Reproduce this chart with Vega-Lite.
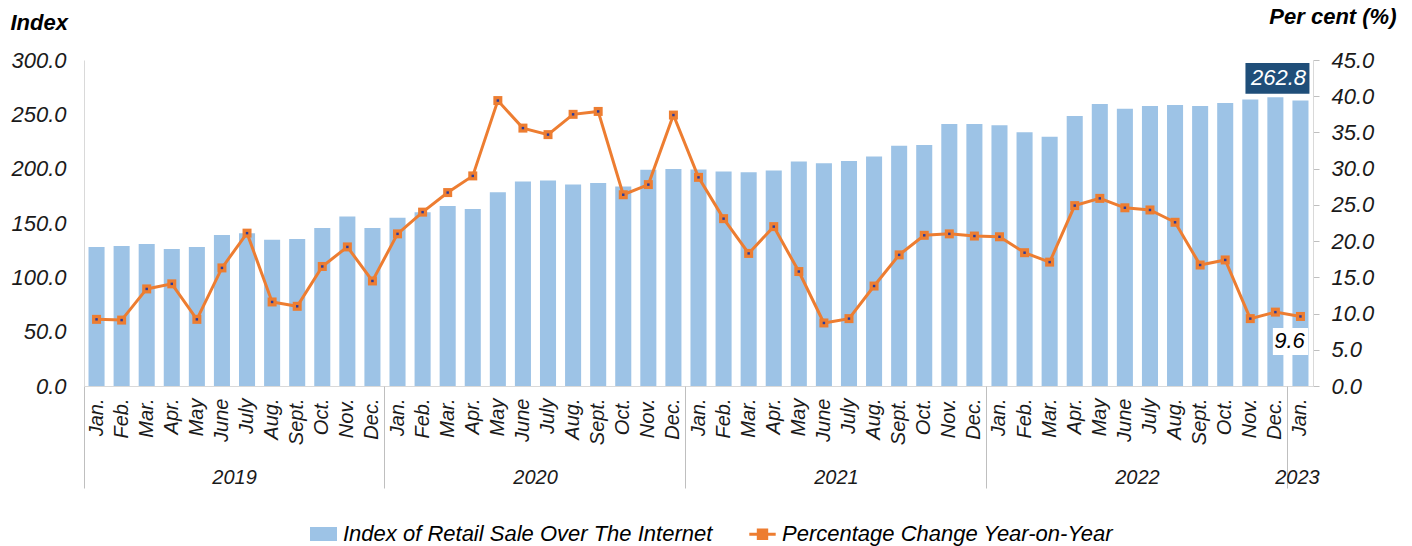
{
  "$schema": "https://vega.github.io/schema/vega-lite/v6.json",
  "autosize": {"type": "none"},
  "padding": {"left": 84, "top": 60, "right": 99, "bottom": 160},
  "width": 1229,
  "height": 326,
  "background": "white",
  "config": {
    "view": {"stroke": null},
    "font": "Liberation Sans",
    "axis": {"labelFont": "Liberation Sans", "titleFont": "Liberation Sans", "grid": false},
    "legend": {"labelFont": "Liberation Sans"},
    "text": {"font": "Liberation Sans"}
  },
  "data": {
    "values": [
      {"key": "2019|Jan.", "idx": 128.0, "pct": 9.2},
      {"key": "2019|Feb.", "idx": 128.8, "pct": 9.1},
      {"key": "2019|Mar.", "idx": 130.6, "pct": 13.4},
      {"key": "2019|Apr.", "idx": 126.0, "pct": 14.1},
      {"key": "2019|May", "idx": 128.0, "pct": 9.2},
      {"key": "2019|June", "idx": 139.0, "pct": 16.3},
      {"key": "2019|July", "idx": 140.5, "pct": 21.1},
      {"key": "2019|Aug.", "idx": 134.6, "pct": 11.6},
      {"key": "2019|Sept.", "idx": 135.2, "pct": 11.0},
      {"key": "2019|Oct.", "idx": 145.4, "pct": 16.5},
      {"key": "2019|Nov.", "idx": 156.0, "pct": 19.2},
      {"key": "2019|Dec.", "idx": 145.4, "pct": 14.5},
      {"key": "2020|Jan.", "idx": 154.8, "pct": 21.0},
      {"key": "2020|Feb.", "idx": 160.0, "pct": 24.0},
      {"key": "2020|Mar.", "idx": 165.6, "pct": 26.7},
      {"key": "2020|Apr.", "idx": 162.8, "pct": 29.0},
      {"key": "2020|May", "idx": 178.2, "pct": 39.4},
      {"key": "2020|June", "idx": 188.3, "pct": 35.6},
      {"key": "2020|July", "idx": 189.2, "pct": 34.7},
      {"key": "2020|Aug.", "idx": 185.5, "pct": 37.5},
      {"key": "2020|Sept.", "idx": 186.8, "pct": 37.9},
      {"key": "2020|Oct.", "idx": 183.7, "pct": 26.4},
      {"key": "2020|Nov.", "idx": 199.0, "pct": 27.8},
      {"key": "2020|Dec.", "idx": 199.6, "pct": 37.4},
      {"key": "2021|Jan.", "idx": 199.3, "pct": 28.8},
      {"key": "2021|Feb.", "idx": 197.5, "pct": 23.1},
      {"key": "2021|Mar.", "idx": 196.6, "pct": 18.3},
      {"key": "2021|Apr.", "idx": 198.4, "pct": 22.0},
      {"key": "2021|May", "idx": 206.7, "pct": 15.8},
      {"key": "2021|June", "idx": 204.9, "pct": 8.7},
      {"key": "2021|July", "idx": 207.0, "pct": 9.3},
      {"key": "2021|Aug.", "idx": 211.3, "pct": 13.8},
      {"key": "2021|Sept.", "idx": 221.0, "pct": 18.1},
      {"key": "2021|Oct.", "idx": 221.7, "pct": 20.8},
      {"key": "2021|Nov.", "idx": 241.0, "pct": 21.0},
      {"key": "2021|Dec.", "idx": 241.0, "pct": 20.7},
      {"key": "2022|Jan.", "idx": 240.0, "pct": 20.6},
      {"key": "2022|Feb.", "idx": 233.4, "pct": 18.4},
      {"key": "2022|Mar.", "idx": 229.4, "pct": 17.1},
      {"key": "2022|Apr.", "idx": 248.4, "pct": 24.9},
      {"key": "2022|May", "idx": 259.4, "pct": 25.9},
      {"key": "2022|June", "idx": 255.1, "pct": 24.6},
      {"key": "2022|July", "idx": 257.6, "pct": 24.3},
      {"key": "2022|Aug.", "idx": 258.5, "pct": 22.6},
      {"key": "2022|Sept.", "idx": 257.6, "pct": 16.7},
      {"key": "2022|Oct.", "idx": 260.4, "pct": 17.4},
      {"key": "2022|Nov.", "idx": 263.7, "pct": 9.3},
      {"key": "2022|Dec.", "idx": 265.8, "pct": 10.2},
      {"key": "2023|Jan.", "idx": 262.8, "pct": 9.6}
    ]
  },
  "layer": [
    {
      "encoding": {
        "x": {
          "field": "key", "type": "nominal", "sort": null,
          "scale": {"paddingInner": 0.36, "paddingOuter": 0.18},
          "axis": {
            "orient": "bottom",
            "title": null,
            "labelExpr": "split(datum.value,'|')[1]",
            "labelAngle": -90, "labelAlign": "right", "labelBaseline": "middle",
            "labelPadding": 12, "ticks": false, "domainColor": "#D9D9D9",
            "labelFontSize": 20, "labelFontStyle": "italic", "labelColor": "#1a1a1a",
            "labelOverlap": false
          }
        },
        "y": {
          "field": "idx", "type": "quantitative",
          "scale": {"domain": [0, 300], "nice": false},
          "axis": {
            "title": "Index", "titleAngle": 0, "titleAlign": "left", "titleBaseline": "middle",
            "titleX": -74, "titleY": -38, "titleFontSize": 22, "titleFontWeight": "bold",
            "titleFontStyle": "italic", "titleColor": "#000",
            "values": [0, 50, 100, 150, 200, 250, 300], "format": ".1f",
            "ticks": false, "labelPadding": 18, "domainColor": "#D9D9D9",
            "labelFontSize": 22, "labelFontStyle": "italic", "labelColor": "#1a1a1a"
          }
        }
      },
      "layer": [
        {
          "mark": {"type": "bar", "color": "#9DC3E6"},
          "encoding": {"color": {"datum": "Index of Retail Sale Over The Internet"}}
        },
        {
          "transform": [{"filter": "datum.key == '2023|Jan.'"}],
          "mark": {"type": "point", "shape": "M-1,-0.48H1V0.48H-1Z", "filled": true, "color": "#1F4E79", "opacity": 1, "strokeWidth": 0, "size": 4096, "xOffset": -23, "yOffset": -22}
        },
        {
          "transform": [{"filter": "datum.key == '2023|Jan.'"}],
          "mark": {"type": "text", "color": "white", "fontSize": 22, "fontStyle": "italic", "align": "center", "baseline": "middle", "xOffset": -22, "yOffset": -22},
          "encoding": {"text": {"field": "idx", "format": ".1f"}}
        }
      ]
    },
    {
      "encoding": {
        "x": {
          "field": "key", "type": "nominal", "sort": null,
          "axis": {
            "orient": "bottom",
            "title": null, "bandPosition": -0.28, "domain": false,
            "labelExpr": "datum.value == '2019|July' ? '2019' : datum.value == '2020|July' ? '2020' : datum.value == '2021|July' ? '2021' : datum.value == '2022|July' ? '2022' : datum.value == '2023|Jan.' ? '2023' : ''",
            "labelAngle": 0, "labelAlign": "center", "labelBaseline": "top",
            "tickSize": 102, "tickColor": "#BFBFBF",
            "tickOpacity": {"condition": {"test": "datum.value == '2019|Jan.' || datum.value == '2020|Jan.' || datum.value == '2021|Jan.' || datum.value == '2022|Jan.' || datum.value == '2023|Jan.'", "value": 1}, "value": 0},
            "labelOffset": {"condition": {"test": "datum.value == '2023|Jan.'", "value": -3}, "value": -12.5},
            "labelPadding": -21, "labelFontSize": 20, "labelFontStyle": "italic", "labelColor": "#1a1a1a",
            "labelOverlap": false
          }
        },
        "y": {
          "field": "pct", "type": "quantitative",
          "scale": {"domain": [0, 45], "nice": false},
          "axis": {
            "orient": "right",
            "title": "Per cent (%)", "titleAngle": 0, "titleAlign": "right", "titleBaseline": "middle",
            "titleX": 83, "titleY": -44, "titleFontSize": 22, "titleFontWeight": "bold",
            "titleFontStyle": "italic", "titleColor": "#000",
            "values": [0, 5, 10, 15, 20, 25, 30, 35, 40, 45], "format": ".1f",
            "tickSize": 6, "tickColor": "#BFBFBF", "labelPadding": 12, "domainColor": "#D9D9D9",
            "labelFontSize": 22, "labelFontStyle": "italic", "labelColor": "#1a1a1a"
          }
        }
      },
      "layer": [
        {
          "mark": {"type": "line", "strokeWidth": 3},
          "encoding": {
            "color": {
              "datum": "Percentage Change Year-on-Year",
              "scale": {"domain": ["Index of Retail Sale Over The Internet", "Percentage Change Year-on-Year"], "range": ["#9DC3E6", "#ED7D31"]},
              "legend": {
                "orient": "none", "legendX": 226, "legendY": 460, "direction": "horizontal", "title": null,
                "labelFontSize": 22, "labelFontStyle": "italic", "labelColor": "#000", "labelLimit": 0,
                "columnPadding": 30, "symbolSize": 576, "labelOffset": 6,
                "encode": {
                  "symbols": {
                    "update": {
                      "shape": {"signal": "datum.value === 'Index of Retail Sale Over The Internet' ? 'M-1,-0.46H1V0.46H-1Z' : 'M-1.1,0H1.1M-0.35,-0.35H0.35V0.35H-0.35Z'"},
                      "fill": {"signal": "datum.value === 'Index of Retail Sale Over The Internet' ? '#9DC3E6' : '#ED7D31'"},
                      "stroke": {"signal": "datum.value === 'Index of Retail Sale Over The Internet' ? 'transparent' : '#ED7D31'"},
                      "strokeWidth": {"value": 3},
                      "opacity": {"value": 1},
                      "fillOpacity": {"value": 1}
                    }
                  }
                }
              }
            }
          }
        },
        {
          "mark": {"type": "point", "shape": "square", "filled": true, "color": "#ED7D31", "opacity": 1, "size": 81}
        },
        {
          "mark": {"type": "point", "shape": "square", "filled": true, "color": "#2A3B9C", "opacity": 1, "size": 6}
        },
        {
          "transform": [{"filter": "datum.key == '2023|Jan.'"}],
          "mark": {"type": "point", "shape": "M-0.55,-0.42H0.55V0.42H-0.55Z", "filled": true, "color": "white", "opacity": 1, "strokeWidth": 0, "size": 4096, "xOffset": -10, "yOffset": 25}
        },
        {
          "transform": [{"filter": "datum.key == '2023|Jan.'"}],
          "mark": {"type": "text", "color": "#000", "fontSize": 22, "fontStyle": "italic", "align": "center", "baseline": "middle", "xOffset": -11, "yOffset": 25},
          "encoding": {"text": {"field": "pct", "format": ".1f"}}
        }
      ]
    }
  ],
  "resolve": {"scale": {"y": "independent"}, "axis": {"x": "independent"}}
}
